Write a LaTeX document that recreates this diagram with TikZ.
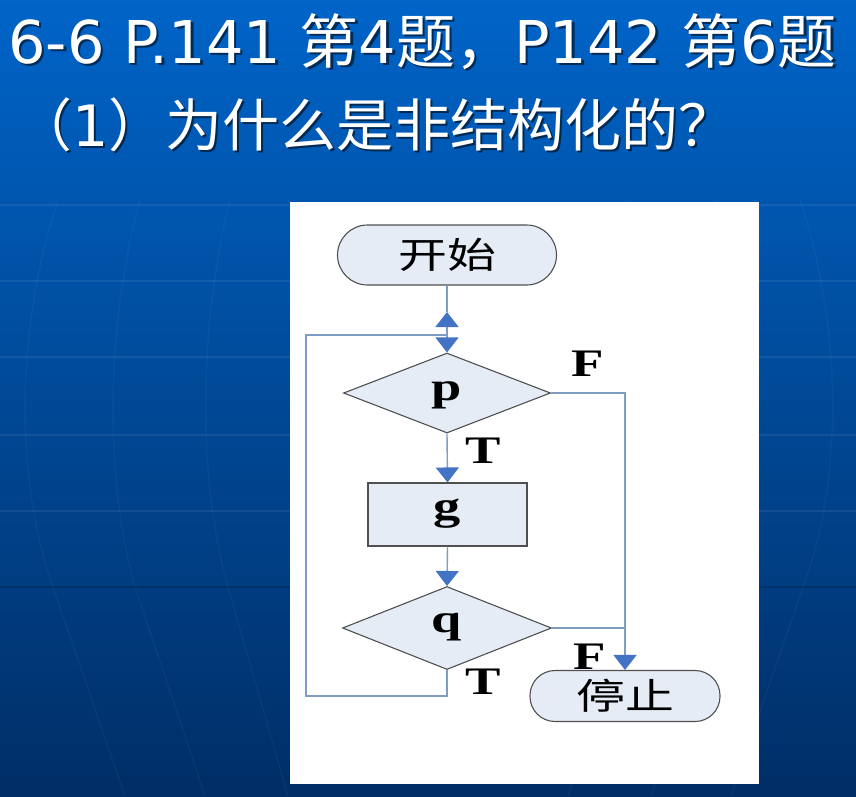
\documentclass[tikz,border=0pt]{standalone}
\usepackage{fontspec}
\usetikzlibrary{shapes.geometric,arrows.meta}
\newfontfamily\latfont{DejaVu Sans}
\newfontfamily\cjkfont{Noto Sans CJK SC}
\newfontfamily\serfont{Liberation Serif}
\definecolor{bgtop}{HTML}{0064C8}
\definecolor{bgmid}{HTML}{0052A8}
\definecolor{bgbot}{HTML}{002E66}
\definecolor{shapefill}{HTML}{E6ECF6}
\definecolor{shapeline}{HTML}{505050}
\definecolor{connline}{HTML}{7E9CC4}
\definecolor{tipblue}{HTML}{4472C4}
\tikzset{
  gridlight/.style={draw=white, opacity=0.07, line width=1.3pt},
  gridfaint/.style={draw=white, opacity=0.035, line width=1.3pt},
  griddark/.style={draw=black, opacity=0.18, line width=1.3pt},
  titletext/.style={anchor=base west, inner sep=0pt, text=white},
  titleshadow/.style={anchor=base west, inner sep=0pt, text=black, opacity=0.55},
  terminal/.style={rectangle, draw=shapeline, fill=shapefill, line width=1.1pt, inner sep=0pt},
  decision/.style={diamond, draw=shapeline, fill=shapefill, line width=1.1pt, inner sep=0pt, aspect=2.6},
  process/.style={rectangle, draw=shapeline, fill=shapefill, line width=1.1pt, inner sep=0pt},
  conn/.style={draw=connline, line width=1.4pt},
  arr/.style={conn, -{Triangle[width=23pt, length=15pt, color=tipblue]}},
  flabel/.style={inner sep=0pt, font=\serfont\bfseries\fontsize{39}{39}\selectfont},
}
\newcommand{\wide}[1]{\scalebox{1.36}[1]{#1}}
\newcommand{\letter}[2]{\raisebox{-#1pt}[0pt][0pt]{\wide{\serfont\bfseries\fontsize{40}{40}\selectfont #2}}}
\newcommand{\headone}{\fontsize{59}{59}\selectfont\latfont 6-6 P.141 \cjkfont 第\latfont 4\cjkfont 题，\latfont P142 \cjkfont 第\latfont 6\cjkfont 题}
\newcommand{\headtwo}{\fontsize{57}{57}\selectfont\cjkfont （\latfont 1\cjkfont ）为什么是非结构化的？}
\begin{document}
\begin{tikzpicture}[x=1pt, y=-1pt]
  \useasboundingbox (0,0) rectangle (856,796);
  % slide background
  \shade[top color=bgtop, middle color=bgmid, bottom color=bgbot] (0,0) rectangle (856,796);
  % globe grid
  \foreach \yy in {205,281,357,435,511} \draw[gridlight] (0,\yy) -- (856,\yy);
  \draw[griddark] (0,587) -- (856,587);
  \draw[gridfaint] (58,200) .. controls (15,330) and (15,480) .. (53,587) -- (125,796);
  \draw[gridfaint] (140,200) .. controls (105,330) and (105,480) .. (135,587) -- (205,796);
  \draw[gridfaint] (230,200) .. controls (198,330) and (198,480) .. (228,587) -- (288,796);
  \draw[gridfaint] (626,200) .. controls (658,330) and (658,480) .. (628,587) -- (568,796);
  \draw[gridfaint] (716,200) .. controls (751,330) and (751,480) .. (721,587) -- (651,796);
  \draw[gridfaint] (800,200) .. controls (843,330) and (843,480) .. (803,587) -- (731,796);

  % heading lines
  \node[titleshadow] at (10.5,65.5) {\headone};
  \node[titletext] (head1) at (8,63) {\headone};
  \node[titleshadow] at (17.5,148.5) {\headtwo};
  \node[titletext] (head2) at (15,146) {\headtwo};

  % white panel
  \fill[white] (290,202) rectangle (759,784);

  % flowchart
  \node[terminal, rounded corners=30pt, minimum width=219pt, minimum height=60pt] (start) at (447,255)
    {\wide{\cjkfont\fontsize{36}{36}\selectfont 开始}};
  \node[decision, minimum width=207pt, minimum height=80pt] (p) at (447,393) {\letter{7}{p}};
  \node[process, minimum width=159pt, minimum height=63pt] (g) at (447.5,514.5) {\letter{5}{g}};
  \node[decision, minimum width=209pt, minimum height=83pt] (q) at (447,628) {\letter{4}{q}};
  \node[terminal, rounded corners=25pt, minimum width=190pt, minimum height=51pt] (stop) at (625,696)
    {\wide{\cjkfont\fontsize{36}{36}\selectfont 停止}};

  \coordinate (join) at (447,335);
  \coordinate (uptip) at (447,312);
  \coordinate (loopleft) at (306,335);
  \coordinate (fcorner) at (625,393);
  \coordinate (qright) at (625,628);

  \draw[conn] (start.south) -- (uptip);
  \draw[conn] (q.south) -- ++(0,26) -| (loopleft) -- (join);
  \draw[arr] (join) -- (uptip);
  \draw[arr] (join) -- (p.north);
  \draw[arr] (p.south) -- (g.north);
  \draw[arr] (g.south) -- (q.north);
  \draw[conn] (q.east) -- (qright);
  \draw[arr] (p.east) -- (fcorner) -- (stop.north);

  \node[flabel] (pF) at (588,364) {\wide{F}};
  \node[flabel] (pT) at (483,451) {\wide{T}};
  \node[flabel] (qF) at (590,657) {\wide{F}};
  \node[flabel] (qT) at (483,682) {\wide{T}};
\end{tikzpicture}
\end{document}
